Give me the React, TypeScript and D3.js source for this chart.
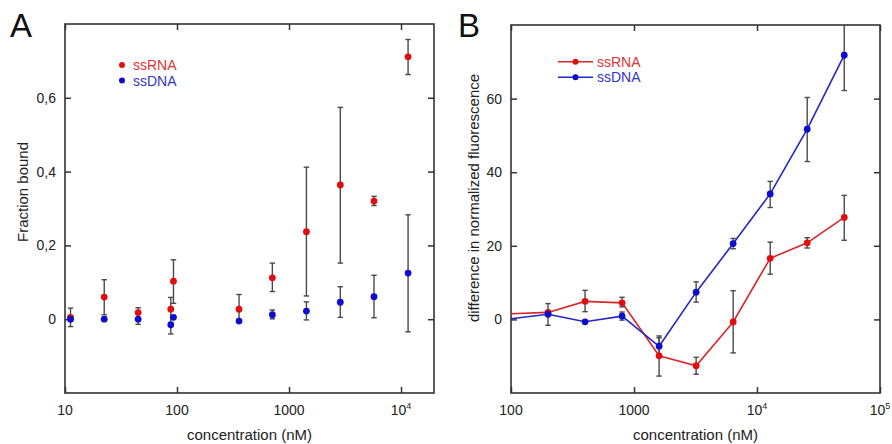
import React, { useRef, useEffect } from 'react';
import * as d3 from 'd3';

// ---- panel A: fraction bound vs concentration ----
const concA = [11.2, 22.4, 45, 88, 93, 358, 710, 1430, 2870, 5740, 11560];
const rnaA = [0.005, 0.06, 0.018, 0.027, 0.103, 0.027, 0.112, 0.237, 0.364, 0.32, 0.711];
const rnaALo = [-0.02, 0.012, -0.014, null, 0.043, -0.007, 0.075, 0.063, 0.152, 0.308, 0.663];
const rnaAHi = [0.03, 0.107, 0.031, null, 0.161, 0.067, 0.152, 0.412, 0.574, 0.333, 0.758];
const dnaA = [0.0, 0.0, 0.0, -0.015, 0.005, -0.005, 0.012, 0.022, 0.046, 0.061, 0.125];
const dnaALo = [null, null, null, -0.04, null, null, 0.001, -0.002, 0.005, 0.004, -0.034];
const dnaAHi = [null, null, null, 0.059, null, null, 0.025, 0.047, 0.088, 0.119, 0.283];
const yTicksA = [0, 0.2, 0.4, 0.6];
const xTicksA = [10, 100, 1000, 10000];

// ---- panel B: difference in normalized fluorescence ----
const concB = [90, 200, 400, 800, 1600, 3200, 6400, 12800, 25600, 51200];
const rnaB = [1.5, 1.9, 4.9, 4.5, -9.9, -12.6, -0.7, 16.6, 20.8, 27.7];
const rnaBLo = [null, -1.6, 2.1, 3.4, -15.4, -14.9, -9.1, 12.3, 19.4, 21.5];
const rnaBHi = [null, 4.3, 7.9, 6.0, -4.5, -10.3, 7.8, 21.0, 22.2, 33.7];
const dnaB = [0, 1.4, -0.65, 0.9, -7.3, 7.4, 20.6, 34.1, 51.7, 71.8];
const dnaBLo = [null, null, null, -0.2, -9.6, 4.7, 19.2, 30.4, 42.9, 62.2];
const dnaBHi = [null, null, null, 2.0, -5.0, 10.2, 22.0, 37.5, 60.3, 81.4];
const yTicksB = [0, 20, 40, 60];
const xTicksB = [100, 1000, 10000, 100000];

const RED = '#e30d0d';
const BLUE = '#0d0dd0';
const RED_LINE = '#d92626';
const BLUE_LINE = '#2626c8';
const FONT = 'Liberation Sans, Arial, Helvetica, sans-serif';

function tickLabel(sel, v) {
  const e = Math.round(Math.log10(v));
  if (e >= 4) {
    sel.append('tspan').text('10');
    sel.append('tspan').attr('dy', -6).attr('font-size', 9).text(e);
  } else {
    sel.text(v);
  }
}

function drawPanel(svg, p) {
  const x = d3.scaleLog().domain(p.xDomain).range([p.left, p.right]);
  const y = d3.scaleLinear().domain(p.yDomain).range([p.bottom, p.top]);
  const g = svg.append('g');

  const clipId = 'clip-' + p.name;
  svg.append('clipPath').attr('id', clipId)
    .append('rect')
    .attr('x', p.left).attr('y', p.top)
    .attr('width', p.right - p.left).attr('height', p.bottom - p.top);

  const axes = [
    [d3.axisLeft(y).tickValues(p.yTicks), p.left, 0],
    [d3.axisRight(y).tickValues(p.yTicks), p.right, 0],
    [d3.axisBottom(x).tickValues(p.xTicks), 0, p.bottom],
    [d3.axisTop(x).tickValues(p.xTicks), 0, p.top],
  ];
  axes.forEach(([ax, tx, ty]) => {
    const a = g.append('g')
      .attr('transform', `translate(${tx},${ty})`)
      .call(ax.tickSize(-6).tickSizeOuter(0).tickFormat(() => ''));
    a.select('.domain').remove();
    a.selectAll('line').attr('stroke', '#333').attr('stroke-width', 1.5);
  });

  g.append('rect')
    .attr('x', p.left).attr('y', p.top)
    .attr('width', p.right - p.left).attr('height', p.bottom - p.top)
    .attr('fill', 'none').attr('stroke', '#333').attr('stroke-width', 1.6);

  // tick labels
  g.selectAll('.ylab').data(p.yTicks).join('text')
    .attr('x', p.left - 9).attr('y', d => y(d)).attr('dy', '0.35em')
    .attr('text-anchor', 'end').attr('font-size', 14).attr('fill', '#222')
    .text(p.yFormat);
  g.selectAll('.xlab').data(p.xTicks).join('text')
    .attr('x', d => x(d)).attr('y', p.bottom + 22)
    .attr('text-anchor', 'middle').attr('font-size', 14).attr('fill', '#222')
    .each(function (d) { tickLabel(d3.select(this), d); });

  // axis titles
  g.append('text')
    .attr('x', (p.left + p.right) / 2).attr('y', 440)
    .attr('text-anchor', 'middle').attr('font-size', 15).attr('fill', '#222')
    .text('concentration (nM)');
  g.append('text')
    .attr('transform', `translate(${p.yTitleX},${p.yTitleY}) rotate(-90)`)
    .attr('text-anchor', 'middle').attr('font-size', 15).attr('fill', '#222')
    .text(p.yTitle);
  g.append('text')
    .attr('x', p.letterX).attr('y', 37)
    .attr('font-size', 33).attr('fill', '#111')
    .text(p.name);

  const plot = g.append('g').attr('clip-path', `url(#${clipId})`);
  p.series.forEach(s => {
    const pts = p.conc.map((c, i) => ({ c, v: s.values[i], lo: s.lo[i], hi: s.hi[i] }));
    if (p.lines) {
      plot.append('path')
        .datum(pts)
        .attr('fill', 'none').attr('stroke', s.line).attr('stroke-width', 1.6)
        .attr('d', d3.line().x(d => x(d.c)).y(d => y(d.v)));
    }
    s.pts = pts;
  });
  p.series.forEach(s => {
    const bars = s.pts.filter(d => d.lo !== null);
    const eb = plot.append('g').attr('stroke', '#4a4a4a').attr('stroke-width', 1.4);
    eb.selectAll('.v').data(bars).join('line')
      .attr('x1', d => x(d.c)).attr('x2', d => x(d.c))
      .attr('y1', d => y(d.lo)).attr('y2', d => y(d.hi));
    ['lo', 'hi'].forEach(k => {
      eb.selectAll('.c' + k).data(bars).join('line')
        .attr('x1', d => x(d.c) - 2.7).attr('x2', d => x(d.c) + 2.7)
        .attr('y1', d => y(d[k])).attr('y2', d => y(d[k]));
    });
  });
  p.series.forEach(s => {
    plot.selectAll(null).data(s.pts).join('circle')
      .attr('cx', d => x(d.c)).attr('cy', d => y(d.v))
      .attr('r', 3.4).attr('fill', s.color);
  });

  // legend
  p.series.forEach((s, i) => {
    const ly = p.legendY + i * 15.5;
    if (p.lines) {
      g.append('line')
        .attr('x1', p.legendX - 17.5).attr('x2', p.legendX + 17.5)
        .attr('y1', ly).attr('y2', ly)
        .attr('stroke', s.line).attr('stroke-width', 1.4);
    }
    g.append('circle').attr('cx', p.legendX).attr('cy', ly).attr('r', 3).attr('fill', s.color);
    g.append('text')
      .attr('x', p.legendX + p.legendGap).attr('y', ly + 5)
      .attr('font-size', 14).attr('fill', s.text)
      .text(s.label);
  });
}

export default function App() {
  const ref = useRef(null);

  useEffect(() => {
    const svg = d3.select(ref.current);
    svg.selectAll('*').remove();
    svg.attr('font-family', FONT);

    drawPanel(svg, {
      name: 'A', letterX: 10,
      left: 65, right: 434, top: 24, bottom: 393,
      xDomain: [10, 19700], yDomain: [-0.2, 0.8],
      xTicks: xTicksA, yTicks: yTicksA,
      yFormat: d => (d === 0 ? '0' : d.toFixed(1).replace('.', ',')),
      yTitle: 'Fraction bound', yTitleX: 28, yTitleY: 192,
      conc: concA, lines: false,
      legendX: 122, legendY: 65, legendGap: 11,
      series: [
        { label: 'ssRNA', values: rnaA, lo: rnaALo, hi: rnaAHi, color: RED, line: RED_LINE, text: '#e23434' },
        { label: 'ssDNA', values: dnaA, lo: dnaALo, hi: dnaAHi, color: BLUE, line: BLUE_LINE, text: '#3434c8' },
      ],
    });

    drawPanel(svg, {
      name: 'B', letterX: 458,
      left: 511, right: 880, top: 25, bottom: 393,
      xDomain: [100, 100000], yDomain: [-20, 80],
      xTicks: xTicksB, yTicks: yTicksB,
      yFormat: d => String(d),
      yTitle: 'difference in normalized fluorescence', yTitleX: 479, yTitleY: 198,
      conc: concB, lines: true,
      legendX: 575.5, legendY: 61.7, legendGap: 21.5,
      series: [
        { label: 'ssRNA', values: rnaB, lo: rnaBLo, hi: rnaBHi, color: RED, line: RED_LINE, text: '#e23434' },
        { label: 'ssDNA', values: dnaB, lo: dnaBLo, hi: dnaBHi, color: BLUE, line: BLUE_LINE, text: '#3434c8' },
      ],
    });
  }, []);

  return (
    <svg ref={ref} width="892" height="444"
      style={{ position: 'absolute', left: 0, top: 0, background: '#fff' }} />
  );
}
